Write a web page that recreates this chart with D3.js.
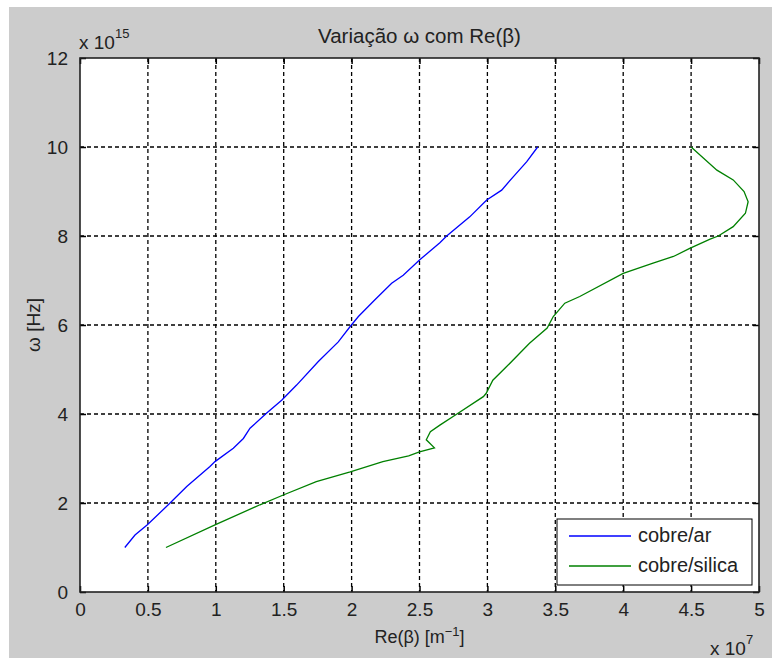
<!DOCTYPE html>
<html><head><meta charset="utf-8">
<script src="https://cdn.jsdelivr.net/npm/d3@7"></script>
<style>body{margin:0;background:#fff}svg{display:block}text{font-family:"Liberation Sans",Arial,sans-serif;fill:#222}</style>
</head><body>
<svg id="c" width="772" height="658"></svg>
<script>
const xTicks = [0,0.5,1,1.5,2,2.5,3,3.5,4,4.5,5];
const yTicks = [0,2,4,6,8,10,12];
const seriesNames = ["cobre/ar","cobre/silica"];
const seriesColors = ["#0000ff","#008000"];
// Re(beta) in 1e7 m^-1, omega in 1e15 Hz
const cobreArX = [0.33,0.405,0.496,0.65,0.786,0.957,0.994,1.129,1.203,1.252,1.375,1.485,1.595,1.755,1.902,1.988,2.05,2.17,2.295,2.38,2.50,2.65,2.70,2.87,2.995,3.105,3.19,3.29,3.37];
const cobreArY = [1.0,1.28,1.51,1.96,2.37,2.82,2.93,3.23,3.45,3.68,4.02,4.31,4.65,5.18,5.62,5.96,6.19,6.56,6.94,7.12,7.46,7.85,8.0,8.43,8.81,9.03,9.33,9.67,10.0];
const cobreSilX = [0.633,0.994,1.325,1.497,1.74,1.99,2.23,2.42,2.50,2.61,2.55,2.58,2.65,2.77,2.97,2.99,3.04,3.14,3.31,3.44,3.485,3.57,3.68,4.00,4.22,4.37,4.49,4.64,4.70,4.81,4.90,4.92,4.89,4.81,4.69,4.50];
const cobreSilY = [1.0,1.51,1.96,2.18,2.48,2.70,2.93,3.06,3.15,3.24,3.42,3.60,3.75,3.99,4.39,4.46,4.76,5.06,5.59,5.93,6.19,6.49,6.64,7.16,7.39,7.54,7.72,7.93,8.0,8.21,8.51,8.77,9.0,9.26,9.48,10.0];

const svg = d3.select("#c");
svg.append("rect").attr("x",9).attr("y",7).attr("width",763).attr("height",651).attr("fill","#cccccc");
const L=80,R=759,T=58,B=592;
const x = d3.scaleLinear().domain([0,5]).range([L,R]);
const y = d3.scaleLinear().domain([0,12]).range([B,T]);
svg.append("rect").attr("x",L).attr("y",T).attr("width",R-L).attr("height",B-T).attr("fill","#fff");

// grid
const g = svg.append("g").attr("stroke","#000").attr("stroke-width",1.3).attr("stroke-dasharray","4,3");
xTicks.slice(1,-1).forEach(v=>g.append("line").attr("x1",x(v)).attr("x2",x(v)).attr("y1",T).attr("y2",B));
yTicks.slice(1,-1).forEach(v=>g.append("line").attr("y1",y(v)).attr("y2",y(v)).attr("x1",L).attr("x2",R));

// axes
const fmt = d=>String(d);
const ax = svg.append("g").attr("transform",`translate(0,${B})`).call(d3.axisBottom(x).tickValues(xTicks).tickFormat(fmt).tickSize(-6).tickPadding(11));
const axT = svg.append("g").attr("transform",`translate(0,${T})`).call(d3.axisTop(x).tickValues(xTicks).tickFormat("").tickSize(-6));
const ay = svg.append("g").attr("transform",`translate(${L},0)`).call(d3.axisLeft(y).tickValues(yTicks).tickFormat(fmt).tickSize(-6).tickPadding(12));
const ayR = svg.append("g").attr("transform",`translate(${R},0)`).call(d3.axisRight(y).tickValues(yTicks).tickFormat("").tickSize(-6));
[ax,axT,ay,ayR].forEach(a=>{a.select(".domain").remove();a.selectAll("line").attr("stroke","#000").attr("stroke-width",1.5);a.selectAll("text").attr("font-size",19).attr("fill","#222").attr("font-family","Liberation Sans, Arial, sans-serif");});
svg.append("rect").attr("x",L).attr("y",T).attr("width",R-L).attr("height",B-T).attr("fill","none").attr("stroke","#222").attr("stroke-width",1.6);

// lines
const line = d3.line().x(d=>x(d[0])).y(d=>y(d[1]));
const data = [d3.zip(cobreArX,cobreArY), d3.zip(cobreSilX,cobreSilY)];
data.forEach((d,i)=>svg.append("path").datum(d).attr("d",line).attr("fill","none").attr("stroke",seriesColors[i]).attr("stroke-width",1.3));

// title & labels
svg.append("text").attr("x",(L+R)/2).attr("y",43).attr("text-anchor","middle").attr("font-size",20.5).text("Variação ω com Re(β)");
const xl = svg.append("text").attr("x",(L+R)/2).attr("y",643).attr("text-anchor","middle").attr("font-size",18);
xl.append("tspan").text("Re(β) [m");
xl.append("tspan").attr("dy",-7).attr("font-size",13).text("−1");
xl.append("tspan").attr("dy",7).text("]");
svg.append("text").attr("transform",`translate(40,${(T+B)/2}) rotate(-90)`).attr("text-anchor","middle").attr("font-size",19).text("ω [Hz]");

const e1 = svg.append("text").attr("x",79).attr("y",49).attr("font-size",19);
e1.append("tspan").text("x 10");
e1.append("tspan").attr("dy",-11).attr("font-size",13).text("15");
const e2 = svg.append("text").attr("x",710).attr("y",655).attr("font-size",19);
e2.append("tspan").text("x 10");
e2.append("tspan").attr("dy",-11).attr("font-size",13).text("7");

// legend
const lg = svg.append("g");
lg.append("rect").attr("x",557).attr("y",519).attr("width",195).attr("height",66).attr("fill","#fff").attr("stroke","#000").attr("stroke-width",1);
seriesNames.forEach((n,i)=>{
  const yy = 536 + i*30;
  lg.append("line").attr("x1",569).attr("x2",631).attr("y1",yy).attr("y2",yy).attr("stroke",seriesColors[i]).attr("stroke-width",1.3);
  lg.append("text").attr("x",638).attr("y",yy+6).attr("font-size",20).text(n);
});
</script>
</body></html>
